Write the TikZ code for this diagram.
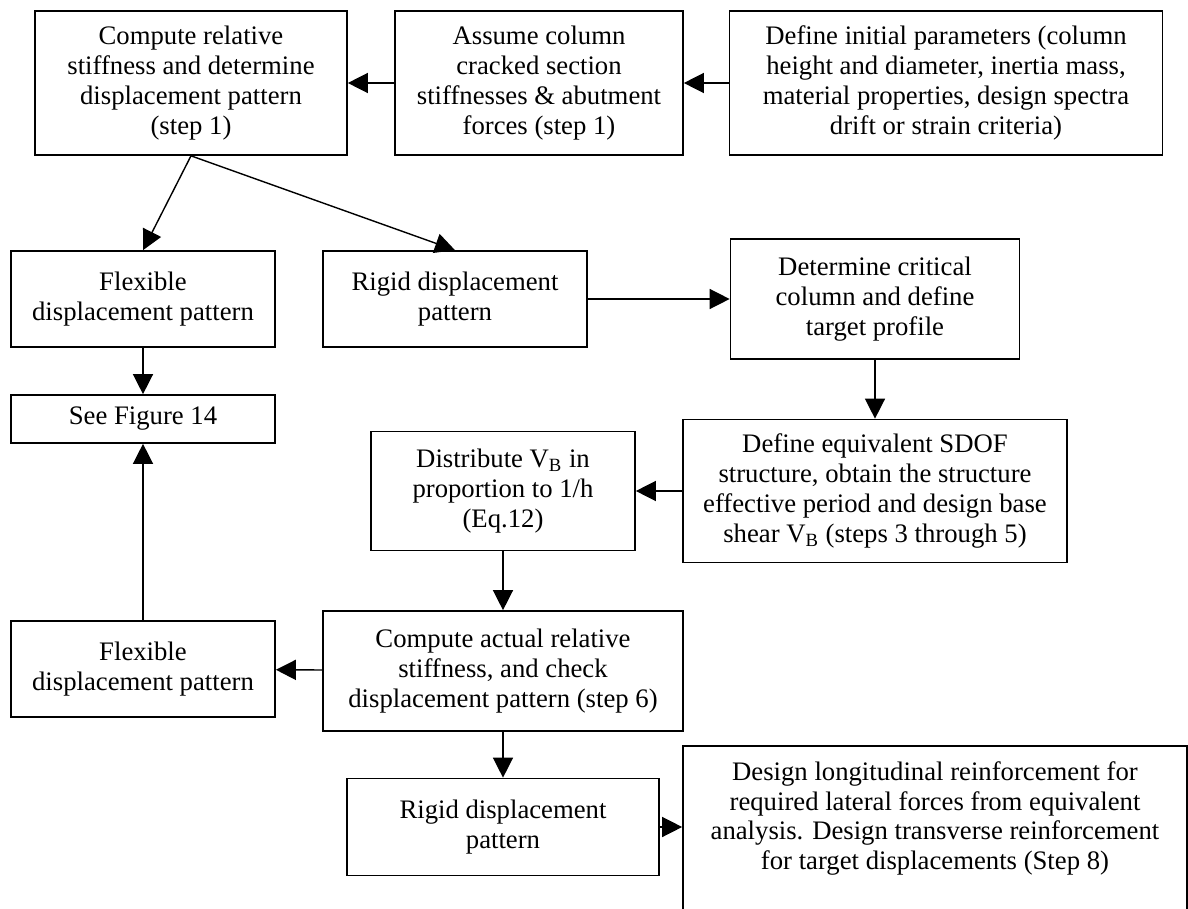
\documentclass[tikz,border=0pt]{standalone}
\usepackage{fontspec}
\setmainfont{Liberation Serif}
\usetikzlibrary{arrows.meta,positioning}
\begin{document}
\begin{tikzpicture}[x={(0.02cm,0)},y={(0,-0.02cm)},
  ptext/.style={align=center,inner sep=0pt,font=\fontsize{15.2}{17}\selectfont},
  pbox/.style 2 args={ptext,draw,line width=0.95pt,
    minimum width=#1*0.02cm,minimum height=#2*0.02cm},
  link/.style={-{Triangle[length=0.4cm,width=0.4cm]},line width=0.8pt}]
\useasboundingbox (0,0) rectangle (1188,909);
\clip (0,0) rectangle (1188,909);
%
\node[pbox={312}{144}] (comprel) at (191,83) {Compute relative\\stiffness and determine\\displacement pattern\\(step 1)};
\node[pbox={288}{144}] (assume) at (539,83) {Assume column\\cracked section\\stiffnesses \& abutment\\forces (step 1)};
\node[pbox={433}{144}] (initpar) at (946,83) {Define initial parameters (column\\height and diameter, inertia mass,\\material properties, design spectra\\drift or strain criteria)};
\node[pbox={264}{96}] (flexA) at (143,299) {Flexible\\displacement pattern};
\node[pbox={264}{96}] (rigidA) at (455,299) {Rigid displacement\\pattern};
\node[pbox={289}{120}] (critcol) at (875,299) {Determine critical\\column and define\\target profile};
\node[pbox={264}{48}] (seefig) at (143,419) {See Figure 14};
\node[pbox={264}{119}] (distrib) at (503,491) {Distribute V\textsubscript{B} in\\proportion to 1/h\\(Eq.12)};
\node[pbox={384}{143}] (sdof) at (875,491) {Define equivalent SDOF\\structure, obtain the structure\\effective period and design base\\shear V\textsubscript{B} (steps 3 through 5)};
\node[pbox={264}{96}] (flexB) at (143,669) {Flexible\\displacement pattern};
\node[pbox={360}{120}] (compact) at (503,671) {Compute actual relative\\stiffness, and check\\displacement pattern (step 6)};
\node[pbox={312}{97}] (rigidB) at (503,827) {Rigid displacement\\pattern};
\node[pbox={504}{200},anchor=north] (design) at (935,745) {};
\node[ptext,below=0.32cm of design.north] (designtxt) {Design longitudinal reinforcement for\\required lateral forces from equivalent\\analysis. Design transverse reinforcement\\for target displacements (Step 8)};
%
\draw[link] (initpar) -- (assume);
\draw[link] (assume) -- (comprel);
\draw[link] (comprel.south) -- (flexA.north);
\draw[link] (comprel.south) -- (rigidA.north);
\draw[link] (flexA) -- (seefig);
\draw[link] (rigidA) -- (critcol);
\draw[link] (critcol) -- (sdof);
\draw[link] (sdof) -- (distrib);
\draw[link] (distrib) -- (compact);
\draw[link] (compact) -- (flexB);
\draw[link] (flexB) -- (seefig);
\draw[link] (compact) -- (rigidB);
\draw[link] (rigidB.east) -- (rigidB.east -| design.west);
\end{tikzpicture}
\end{document}
